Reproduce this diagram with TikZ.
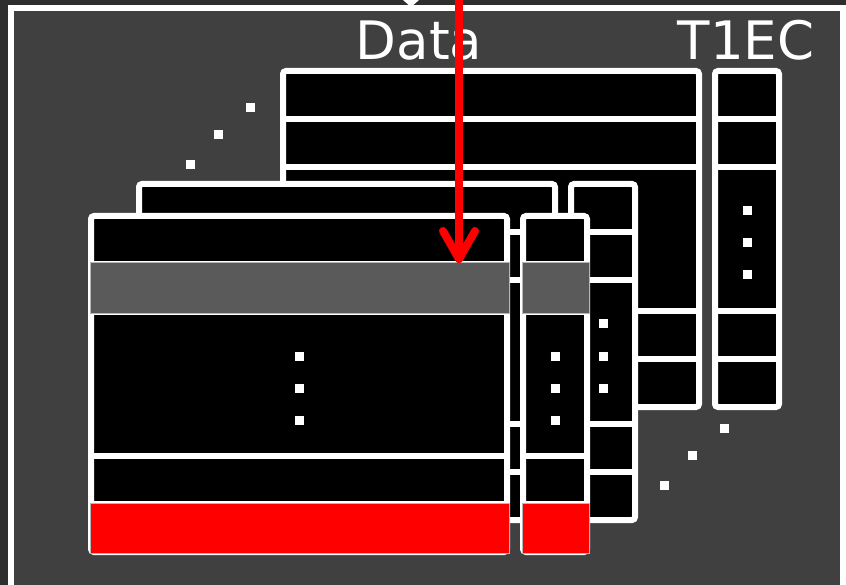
\documentclass[tikz,border=0pt]{standalone}
\usepackage{fontspec}
\setmainfont{DejaVu Sans}
\usetikzlibrary{calc}
\begin{document}
\definecolor{outerbg}{HTML}{2E2E2E}
\definecolor{panelbg}{HTML}{404040}
\definecolor{hlgray}{HTML}{5A5A5A}
\definecolor{edgegray}{HTML}{B8B8B8}
\tikzset{
  cellbox/.style={fill=black, draw=white, line width=6pt, rounded corners=3pt},
  rowsep/.style={draw=white, line width=6pt},
  dotmark/.style={fill=white, draw=none},
  hilite/.style={fill=hlgray, draw=edgegray, line width=0.8pt},
  flagrow/.style={fill=red, draw=edgegray, line width=0.8pt},
  headline/.style={text=white, font=\fontsize{53}{60}\selectfont, anchor=base, inner sep=0pt},
  redline/.style={draw=red, line width=8pt, line cap=round, line join=round}
}
% one layer: data table (416 wide) plus T1EC column (64 wide), 336 tall
\newcommand\tablelayer[2]{%
  \begin{scope}[shift={(#1,#2)}]
    \path[cellbox] (0,0) rectangle (416,336);
    \foreach \r in {48,96,240,288} \draw[rowsep] (0,\r) -- (416,\r);
    \path[cellbox] (432,0) rectangle (496,336);
    \foreach \r in {48,96,240,288} \draw[rowsep] (432,\r) -- (496,\r);
    \foreach \r in {140,172,204} {
      \fill[dotmark] (203.5,\r-4.5) rectangle ++(9,9);
      \fill[dotmark] (459.5,\r-4.5) rectangle ++(9,9);
    }
  \end{scope}}
\begin{tikzpicture}[x=1pt, y=-1pt]
  \useasboundingbox (0,0) rectangle (846,585);
  \fill[outerbg] (0,0) rectangle (846,585);
  \path[fill=panelbg, draw=white, line width=6pt] (11,8) rectangle (843,594);
  \fill[white] (403,0) -- (419,0) -- (411,7) -- cycle;

  % column headings
  \node[headline] (data) at (419,60) {Data};
  \node[headline] (t1ec) at (746,60) {T1EC};

  % diagonal ellipses between the layers
  \foreach \px/\py in {250/108, 218/135, 190/165, 724/428, 692/455, 664/485}
    \fill[dotmark] (\px-4.5,\py-4.5) rectangle ++(9,9);

  % stacked layers, back to front
  \tablelayer{283}{71}
  \tablelayer{139}{184}
  \tablelayer{91}{216}

  % highlighted row and last row of the front layer
  \path[hilite] (90,262) rectangle (509,313);
  \path[hilite] (522,262) rectangle (589,313);
  \path[flagrow] (90,503) rectangle (509,553);
  \path[flagrow] (522,503) rectangle (589,553);

  % red pointer coming down onto the highlighted row
  \coordinate (feed) at (459,-10);
  \coordinate (hit) at (459,259);
  \draw[redline] (feed) -- (hit);
  \draw[redline] ($(hit)+(-16,-28)$) -- (hit) -- ($(hit)+(16,-28)$);
\end{tikzpicture}
\end{document}
